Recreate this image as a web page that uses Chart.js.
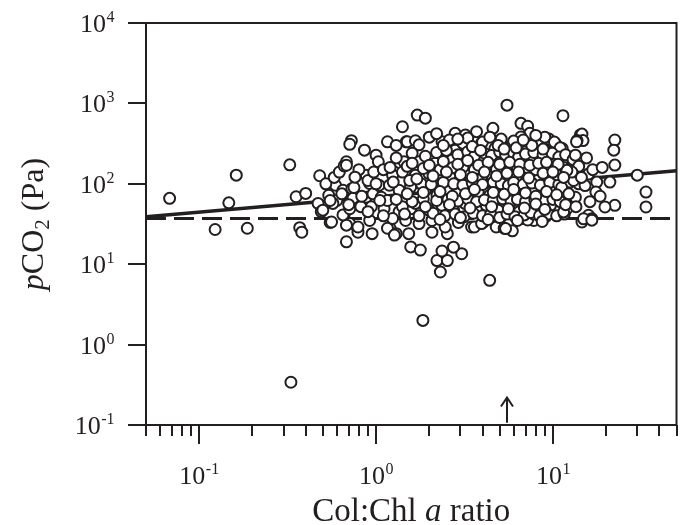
<!DOCTYPE html>
<html lang="en">
  <head>
    <meta charset="UTF-8" />
    <title>pCO2 vs Col:Chl a ratio</title>
    <style>
      * { margin: 0; padding: 0; box-sizing: border-box; }
      body { background: white; }
      .chartBox { width: 684px; height: 525px; }
    </style>
  </head>
  <body>
    <div class="chartBox">
      <canvas id="myChart" width="684" height="525"></canvas>
    </div>

    <script src="https://cdn.jsdelivr.net/npm/chart.js"></script>

    <script>
      // Col:Chl a ratio (x) and pCO2 in Pa (y), one row of 10 per line
      const colChl = [
        0.068, 0.123, 0.147, 0.162, 0.187, 0.325, 0.353, 0.37, 0.38, 0.33,
        1.84, 4.39, 2.31, 2.21, 2.53, 2.36, 3.05, 2.74, 1.57, 1.78,
        2.07, 2.53, 0.68, 0.79, 0.95, 1.2, 1.3, 1.16, 1.27, 1.53,
        0.40, 0.48, 0.47, 0.49, 0.5, 0.55, 0.56, 0.59, 0.66, 0.71,
        0.68, 0.54, 0.6, 0.57, 0.65, 0.73, 0.74, 0.88, 0.92, 0.88,
        0.94, 0.65, 0.71, 0.82, 0.79, 0.92, 0.52, 0.58, 0.62, 0.55,
        0.64, 0.7, 0.75, 0.8, 0.83, 0.9, 0.97, 0.9, 0.96, 0.76,
        0.725, 0.71, 0.68, 0.66, 0.68, 0.86, 1.0, 1.03, 1.16, 1.41,
        1.48, 1.71, 1.9, 1.5, 1.67, 1.75, 1.44, 1.53, 1.27, 1.24,
        1.04, 1.07, 1.19, 1.35, 1.35, 1.57, 1.57, 1.11, 1.16, 1.24,
        1.41, 1.47, 5.5, 11.4, 4.58, 6.6, 7.2, 7.4, 6.6, 3.7,
        2.8, 3.2, 2.36, 4.3, 4.67, 5.8, 6.9, 8.2, 3.05, 2.8,
        3.1, 3.95, 4.4, 4.7, 5.1, 6.6, 7.0, 9.3, 10.1, 11.3,
        8.5, 12, 9.7, 7.5, 5.8, 4.67, 3.47, 2.68, 2.16, 1.75,
        2.0, 2.6, 3.3, 4.0, 5.1, 6.0, 8.5, 9.5, 10.5, 1.3,
        2.2, 9.0, 10.2, 11.0, 1.41, 1.67, 1.99, 2.26, 2.62, 2.98,
        3.39, 3.95, 4.49, 5.3, 6.2, 7.2, 8.2, 9.5, 10.6, 12.3,
        1.35, 1.57, 1.9, 2.21, 2.52, 2.86, 3.25, 3.78, 4.39, 4.99,
        5.8, 6.6, 7.67, 8.7, 10.1, 11.7, 1.41, 1.67, 1.99, 2.36,
        2.74, 3.18, 3.7, 4.2, 4.9, 5.67, 6.45, 7.5, 8.5, 9.7,
        1.75, 2.07, 2.46, 2.92, 3.47, 4.03, 4.78, 5.67, 6.75, 7.8,
        9.1, 5.3, 5.9, 3.6, 3.95, 5.4, 7.2, 7.8, 1.1, 1.3,
        1.6, 1.9, 2.2, 2.5, 2.9, 3.3, 3.6, 4.1, 4.5, 5.0,
        5.4, 6.0, 6.4, 7.0, 7.8, 8.8, 9.9, 10.8, 11.8, 13,
        1.2, 1.5, 1.85, 2.3, 2.7, 3.1, 3.6, 4.2, 4.8, 5.5,
        6.3, 7.1, 8.0, 9.0, 10.3, 11.5, 13.5, 1.0, 1.25, 1.55,
        1.8, 2.05, 2.4, 2.75, 3.1, 3.5, 4.0, 4.6, 5.1, 5.6,
        6.0, 6.8, 7.6, 8.5, 9.6, 10.8, 12.5, 14, 1.05, 1.3,
        1.6, 1.85, 2.2, 2.55, 2.9, 3.3, 3.7, 4.1, 4.6, 5.2,
        5.8, 6.3, 7.0, 7.9, 8.9, 10, 11, 12.5, 1.1, 1.45,
        1.75, 2.1, 2.45, 2.8, 3.15, 3.55, 4.0, 4.45, 5.0, 5.5,
        6.1, 6.9, 7.5, 8.4, 9.4, 10.5, 11.6, 14.3, 14.6, 14.8,
        13.7, 13.6, 13.4, 22.4, 22.1, 22.4, 30, 33.6, 33.6, 22.4,
        19.7, 15.9, 14.6, 16.6, 14.9, 16.6, 21, 17.7, 17.5, 15.9,
        13.4, 12, 11.5, 10.5, 11.2, 12.3, 13.1, 14.0, 11.8, 13.5,
        12.8, 10.2, 12, 16.2, 15.2, 18.5, 14.5, 16.8, 19, 15.5,
        1.6, 2.0, 2.4, 2.9, 3.3, 3.8, 4.3, 5.0, 5.7, 6.5,
        7.4, 8.3, 9.2, 10.7, 1.7, 2.1, 2.5, 3.0, 3.5, 4.1,
        4.8, 5.5, 6.4, 7.3, 8.8, 10, 11.5, 1.5, 1.85, 2.3,
        2.7, 3.2, 3.6, 4.6, 5.3, 6.0, 7.0, 8.0, 9.2, 10.5,
        2.4, 3.5, 4.9, 6.2, 7.6, 8.8, 2.9, 4.4, 6.8, 8.0,
        3.9, 5.3, 1.9, 2.6, 3.4, 4.5, 5.6, 6.9, 8.0, 9.0,
        2.3, 3.0, 4.3, 6.3, 8.7,
      ];
      const pco2 = [
        66, 27, 58, 128, 28, 172, 69, 28.5, 25, 0.34,
        2.0, 6.3, 8.0, 11.1, 11.1, 14.6, 13.5, 16.3, 16.4, 15,
        25, 24, 19, 25, 24, 28, 24, 28, 23, 24,
        76, 126, 57, 45, 47, 33, 33.5, 96, 41, 32,
        30.6, 72, 62, 57, 83, 87, 66, 128, 101, 68,
        52, 41, 49, 52, 29, 35, 100, 120, 140, 62,
        75, 55, 90, 150, 70, 110, 140, 45, 75, 121,
        344, 310, 188, 167, 170, 262, 227, 188, 333, 512,
        333, 715, 655, 333, 343, 305, 188, 148, 140, 128,
        96, 68, 96, 68, 45, 96, 49, 49, 62, 37,
        62, 35, 950, 703, 490, 565, 520, 424, 383, 445,
        424, 404, 333, 325, 283, 290, 262, 283, 305, 262,
        318, 318, 305, 275, 318, 305, 250, 305, 318, 275,
        227, 188, 197, 188, 197, 207, 180, 197, 180, 188,
        380, 350, 370, 330, 360, 340, 330, 360, 300, 300,
        420, 380, 330, 280, 140, 128, 134, 111, 121, 111,
        134, 115, 128, 111, 121, 134, 111, 121, 91, 160,
        83, 91, 83, 72, 87, 75, 91, 79, 72, 87,
        79, 68, 83, 72, 83, 68, 52, 57, 47, 54,
        47, 57, 49, 54, 47, 54, 45, 52, 45, 54,
        32, 35, 29, 33, 29, 33, 29, 32, 37, 35,
        39, 28, 26, 29, 32, 27.7, 35.5, 42, 150, 210,
        240, 220, 245, 260, 230, 250, 220, 240, 225, 250,
        230, 240, 215, 235, 245, 230, 240, 215, 230, 200,
        160, 165, 155, 150, 158, 162, 150, 160, 152, 165,
        155, 160, 150, 158, 150, 160, 145, 100, 105, 110,
        100, 98, 104, 100, 96, 102, 98, 105, 100, 95,
        104, 98, 102, 96, 104, 98, 105, 100, 62, 64,
        60, 65, 62, 64, 61, 65, 60, 63, 62, 65,
        61, 64, 60, 63, 61, 64, 60, 62, 40, 42,
        40, 43, 40, 42, 39, 43, 40, 42, 38, 42,
        39, 41, 44, 40, 42, 40, 42, 405, 415, 345,
        345, 333, 227, 350, 262, 171, 128, 79, 51.5, 54,
        51.5, 40.6, 33.5, 36.8, 36.7, 35.3, 105, 105, 79, 132,
        68, 49, 44.7, 130, 90, 75, 110, 165, 55, 52,
        140, 175, 147, 60, 95, 70, 120, 150, 160, 210,
        180, 170, 190, 175, 195, 170, 185, 175, 185, 175,
        170, 180, 185, 175, 115, 125, 140, 130, 120, 140,
        125, 135, 140, 118, 135, 140, 120, 75, 78, 80,
        70, 75, 85, 78, 74, 85, 77, 70, 80, 73,
        300, 290, 300, 280, 300, 270, 360, 380, 350, 400,
        260, 270, 52, 55, 50, 52, 49, 50, 56, 48,
        36, 38, 36, 35, 34,
      ];

      // fitted regression line and the atmospheric level (dashed)
      const fitX = [0.05, 50];
      const fitY = [39, 145];
      const atmX = [0.05, 50];
      const atmY = [37, 37];

      // axis ticks
      const xMajor = [0.1, 1, 10];
      const xExp = ["-1", "0", "1"];
      const xMinor = [
        0.05, 0.06, 0.07, 0.08, 0.09, 0.2, 0.3, 0.4, 0.5, 0.6, 0.7, 0.8, 0.9,
        2, 3, 4, 5, 6, 7, 8, 9, 20, 30, 40, 50,
      ];
      const yMajor = [0.1, 1, 10, 100, 1000, 10000];
      const yExp = ["-1", "0", "1", "2", "3", "4"];

      // arrow marker near the bottom axis
      const arrowX = 5.5;
      const arrowY = [0.107, 0.22];

      const ink = "#231f20";
      const serif = '"Liberation Serif", "Times New Roman", serif';

      const points = colChl.map((x, i) => ({ x: x, y: pco2[i] }));

      function drawPow(ctx, exp, x, y, align) {
        ctx.font = "26px " + serif;
        const wb = ctx.measureText("10").width;
        ctx.font = "16px " + serif;
        const we = ctx.measureText(exp).width;
        const left = align === "center" ? x - (wb + we) / 2 : x - wb - we;
        ctx.textAlign = "left";
        ctx.textBaseline = "alphabetic";
        ctx.font = "26px " + serif;
        ctx.fillText("10", left, y);
        ctx.font = "16px " + serif;
        ctx.fillText(exp, left + wb + 0.5, y - 10);
      }

      // pieces of text with their own styles, laid out left to right
      function drawRuns(ctx, runs, x, y) {
        let total = 0;
        runs.forEach((r) => {
          ctx.font = r.font;
          r.w = ctx.measureText(r.t).width;
          total += r.w;
        });
        let cx = x - total / 2;
        ctx.textAlign = "left";
        ctx.textBaseline = "alphabetic";
        runs.forEach((r) => {
          ctx.font = r.font;
          ctx.fillText(r.t, cx, y + (r.dy || 0));
          cx += r.w;
        });
      }

      const frame = {
        id: "frame",
        afterDraw(chart) {
          const { ctx, chartArea, scales } = chart;
          const { left, right, top, bottom } = chartArea;
          ctx.save();
          ctx.strokeStyle = ink;
          ctx.fillStyle = ink;
          ctx.lineWidth = 2;
          ctx.strokeRect(left, top, right - left, bottom - top);

          // y ticks + labels
          yMajor.forEach((v, i) => {
            const py = Math.round(scales.y.getPixelForValue(v));
            ctx.beginPath();
            ctx.moveTo(left - 18, py);
            ctx.lineTo(left, py);
            ctx.stroke();
            drawPow(ctx, yExp[i], left - 32, py + 9, "right");
          });

          // x ticks + labels
          xMinor.forEach((v) => {
            const px = Math.round(scales.x.getPixelForValue(v));
            ctx.beginPath();
            ctx.moveTo(px, bottom);
            ctx.lineTo(px, bottom + 11);
            ctx.stroke();
          });
          xMajor.forEach((v, i) => {
            const px = Math.round(scales.x.getPixelForValue(v));
            ctx.beginPath();
            ctx.moveTo(px, bottom);
            ctx.lineTo(px, bottom + 19);
            ctx.stroke();
            drawPow(ctx, xExp[i], px, 484, "center");
          });

          // arrow
          const ax = Math.round(scales.x.getPixelForValue(arrowX));
          const a0 = scales.y.getPixelForValue(arrowY[0]);
          const a1 = scales.y.getPixelForValue(arrowY[1]);
          ctx.lineWidth = 2;
          ctx.beginPath();
          ctx.moveTo(ax, a0);
          ctx.lineTo(ax, a1);
          ctx.moveTo(ax - 6, a1 + 9);
          ctx.lineTo(ax, a1);
          ctx.lineTo(ax + 6, a1 + 9);
          ctx.stroke();

          // axis titles
          drawRuns(
            ctx,
            [
              { t: "Col:Chl ", font: "33px " + serif },
              { t: "a", font: "italic 33px " + serif },
              { t: " ratio", font: "33px " + serif },
            ],
            (left + right) / 2,
            521
          );
          ctx.translate(43, (top + bottom) / 2);
          ctx.rotate(-Math.PI / 2);
          drawRuns(
            ctx,
            [
              { t: "p", font: "italic 32px " + serif },
              { t: "CO", font: "32px " + serif },
              { t: "2", font: "21px " + serif, dy: 6 },
              { t: " (Pa)", font: "32px " + serif },
            ],
            0,
            0
          );
          ctx.restore();
        },
      };

      const config = {
        type: "scatter",
        data: {
          datasets: [
            {
              label: "samples",
              data: points,
              order: 0,
              pointRadius: 5.5,
              pointBorderWidth: 2,
              borderColor: ink,
              backgroundColor: "#ffffff",
            },
            {
              type: "line",
              label: "fit",
              data: fitX.map((x, i) => ({ x: x, y: fitY[i] })),
              order: 1,
              borderColor: ink,
              borderWidth: 3.5,
              pointRadius: 0,
            },
            {
              type: "line",
              label: "atmosphere",
              data: atmX.map((x, i) => ({ x: x, y: atmY[i] })),
              order: 2,
              borderColor: ink,
              borderWidth: 3,
              borderDash: [20, 8],
              pointRadius: 0,
            },
          ],
        },
        options: {
          responsive: false,
          animation: false,
          devicePixelRatio: 1,
          layout: { padding: { left: 0, right: 2, top: 23, bottom: 0 } },
          plugins: {
            legend: { display: false },
            tooltip: { enabled: false },
          },
          scales: {
            x: {
              type: "logarithmic",
              min: 0.05,
              max: 50,
              grid: { display: false },
              border: { display: false },
              ticks: { display: false },
              afterFit: (s) => {
                s.height = 100;
              },
            },
            y: {
              type: "logarithmic",
              min: 0.1,
              max: 10000,
              grid: { display: false },
              border: { display: false },
              ticks: { display: false },
              afterFit: (s) => {
                s.width = 146;
              },
            },
          },
        },
        plugins: [frame],
      };

      const myChart = new Chart(document.getElementById("myChart"), config);
    </script>
  </body>
</html>
